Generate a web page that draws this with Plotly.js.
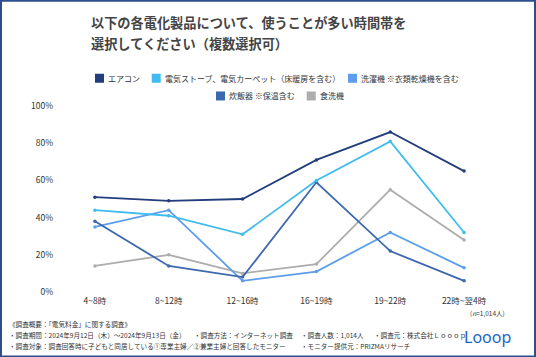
<!DOCTYPE html>
<html><head><meta charset="utf-8">
<script src="https://cdn.plot.ly/plotly-3.0.1.min.js"></script>
<style>html,body{margin:0;padding:0;background:#fff}#chart{width:536px;height:357px}</style>
</head><body><div id="chart"></div>
<script>
const categories = ['4~8時','8~12時','12~16時','16~19時','19~22時','22時~翌4時'];
const seriesNames = ['エアコン','電気ストーブ、電気カーペット（床暖房を含む）','洗濯機 ※衣類乾燥機を含む','炊飯器 ※保温含む','食洗機'];
const aircon   = [51, 49, 50, 71, 86, 65];
const heater   = [44, 41, 31, 60, 81, 32];
const washer   = [35, 44, 6, 11, 32, 13];
const rice     = [38, 14, 8, 59, 22, 6];
const dish     = [14, 20, 10, 15, 55, 28];
const yTickVals = [0,20,40,60,80,100];
const yTickText = ['0%','20%','40%','60%','80%','100%'];
const seriesValues = [aircon, heater, washer, rice, dish];
const colors = ['#233e7c','#40bcef','#5c9ded','#3b68ae','#adadad'];

const FONT = '"Noto Sans CJK JP", "Noto Sans", sans-serif';
const L = 58, R = 501, T = 106, B = 291.7;
const W = R - L, H = B - T;
const px = x => (x - L) / W;
const py = y => (B - y) / H;

const order = [4,2,3,1,0];
const traces = order.map(i => ({
  type: 'scatter', mode: 'lines+markers', x: categories, y: seriesValues[i],
  name: seriesNames[i], line: {color: colors[i], width: 1.8},
  marker: {color: colors[i], size: 3.5}, showlegend: false, hoverinfo: 'none'
}));

const shapes = [{type:'rect', xref:'paper', yref:'paper', x0:px(1), x1:px(535), y0:py(1), y1:py(356),
  line:{color:'#2d4f8e', width:2}, fillcolor:'rgba(0,0,0,0)', layer:'above'}];
const annotations = [];
function txt(text, x, y, size, opts) {
  annotations.push(Object.assign({text, xref:'paper', yref:'paper', x:px(x), y:py(y),
    xanchor:'left', yanchor:'middle', showarrow:false,
    font:{family:FONT, size, color:'#333'}}, opts||{}));
}
// legend (manual)
const legPos = [[95,78.3],[151.7,78.3],[348,78.3],[216,96],[306.7,96]];
seriesNames.forEach((n,i) => {
  const [x,y] = legPos[i];
  shapes.push({type:'rect', xref:'paper', yref:'paper', x0:px(x), x1:px(x+9), y0:py(y+4.5), y1:py(y-4.5),
    fillcolor: colors[i], line:{width:0}});
  txt(n, x+11, y, 8);
});
// title
txt('以下の各電化製品について、使うことが多い時間帯を', 89, 22.7, 13.2, {font:{family:FONT,size:13.2,color:'#444',weight:'bold'}});
txt('選択してください（複数選択可）', 89, 43.3, 13.2, {font:{family:FONT,size:13.2,color:'#444',weight:'bold'}});
// n
txt('(<i>n</i>=1,014人)', 507, 312.7, 6.5, {xanchor:'right'});
// footnotes
const FS = 6.6;
txt('《調査概要：「電気料金」に関する調査》', 7, 324, FS);
txt('・調査期間：2024年9月12日（木）〜2024年9月13日（金）', 7, 335, FS);
txt('・調査方法：インターネット調査', 192, 335, FS);
txt('・調査人数：1,014人', 299, 335, FS);
txt('・調査元：株式会社Ｌｏｏｏｐ', 372, 335, FS);
txt('・調査対象：調査回答時に子どもと同居している①専業主婦／②兼業主婦と回答したモニター', 7, 345.5, FS);
txt('・モニター提供元：PRIZMAリサーチ', 299, 345.5, FS);
// logo
txt('Looop', 487.5, 337, 16, {xanchor:'center', font:{family:'"Noto Sans", sans-serif', size:16, color:'#1b66c0', weight:400}});

const layout = {
  width:536, height:357, margin:{l:L, r:536-R, t:T, b:357-B},
  paper_bgcolor:'#fff', plot_bgcolor:'#fff', showlegend:false,
  font:{family:FONT, color:'#333'},
  xaxis:{type:'category', range:[-0.5,5.5], showgrid:false, zeroline:false, showline:false,
    ticks:'', tickfont:{family:FONT, size:8.5, color:'#333'}, ticklabelstandoff:2, fixedrange:true},
  yaxis:{range:[0,100], tickvals:yTickVals, ticktext:yTickText, showgrid:false, zeroline:false,
    showline:false, ticks:'', tickfont:{family:FONT, size:8.5, color:'#333'}, ticklabelstandoff:4, fixedrange:true},
  shapes, annotations
};
Plotly.newPlot('chart', traces, layout, {displayModeBar:false, staticPlot:true});
</script></body></html>
